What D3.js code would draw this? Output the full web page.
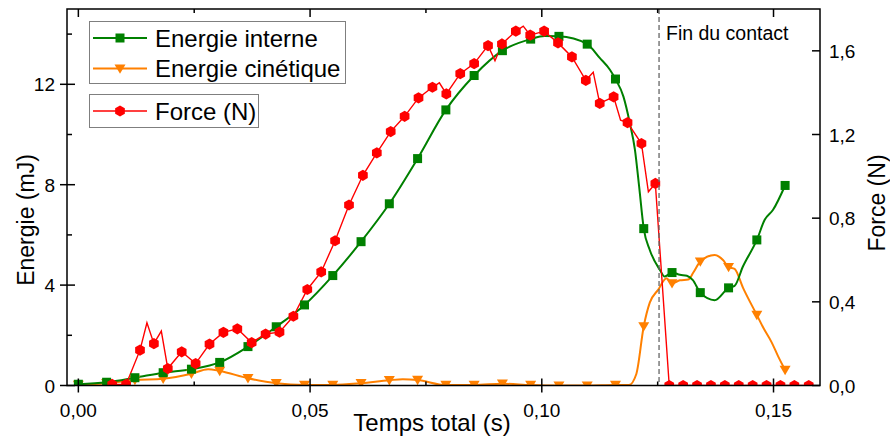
<!DOCTYPE html>
<html><head><meta charset="utf-8">
<script src="https://cdn.jsdelivr.net/npm/d3@7"></script>
<style>
html,body{margin:0;padding:0;background:#fff;}
svg text{font-family:"Liberation Sans",Arial,sans-serif;}
</style></head>
<body><svg id="c" width="890" height="437"></svg>
<script>
// ---------- data ----------
const xTickValues = [0, 0.05, 0.10, 0.15];
const xTickLabels = ["0,00", "0,05", "0,10", "0,15"];
const xMinorTicks = [0.025, 0.075, 0.125];
const yLeftTickValues = [0, 4, 8, 12];
const yLeftTickLabels = ["0", "4", "8", "12"];
const yLeftMinorTicks = [2, 6, 10, 14];
const yRightTickValues = [0, 0.4, 0.8, 1.2, 1.6];
const yRightTickLabels = ["0,0", "0,4", "0,8", "1,2", "1,6"];

// marker times for the energy series (s)
const tEnergy = [0, 0.0061, 0.0122, 0.0183, 0.0244, 0.0305, 0.0366, 0.0427, 0.0488, 0.0549,
  0.0610, 0.0671, 0.0732, 0.0793, 0.0854, 0.0915, 0.0976, 0.1037, 0.1098, 0.1159,
  0.1220, 0.1281, 0.1342, 0.1403, 0.1464, 0.1525];
// Energie interne (mJ) at markers
const energieInterne = [0.05, 0.13, 0.31, 0.51, 0.65, 0.92, 1.55, 2.34, 3.21, 4.38,
  5.73, 7.24, 9.04, 10.98, 12.35, 13.34, 13.80, 13.91, 13.60, 12.21,
  6.25, 4.50, 3.70, 3.89, 5.80, 7.97];
// extra curve points between markers
const tInterneExtra = [0.1006, 0.1125, 0.1147, 0.1176, 0.1190, 0.1201, 0.1210, 0.1233, 0.1255, 0.1265,
  0.1298, 0.1313, 0.1326, 0.1373, 0.1416, 0.1434, 0.1481, 0.1499];
const eInterneExtra = [13.92, 13.05, 12.58, 11.52, 10.45, 9.39, 7.93, 5.40, 4.60, 4.34,
  4.41, 4.37, 4.20, 3.40, 3.97, 4.74, 6.60, 7.00];

// Energie cinetique (mJ) at markers
const energieCinetique = [0.02, 0.09, 0.22, 0.27, 0.47, 0.58, 0.29, 0.09, 0.02, 0.02,
  0.09, 0.21, 0.22, 0.02, 0.02, 0.07, 0.02, 0.00, 0.00, 0.02,
  2.36, 4.07, 4.94, 4.72, 2.81, 0.62];
const tCinetiqueExtra = [0.0280, 0.0700, 0.1188, 0.1204, 0.1233, 0.1251, 0.1269, 0.1298, 0.1316, 0.1327,
  0.1373, 0.1391, 0.1416, 0.1434, 0.1478, 0.1496, 0.1510];
const eCinetiqueExtra = [0.65, 0.25, 0.02, 0.46, 3.30, 3.81, 4.27, 4.19, 4.22, 4.50,
  5.20, 5.00, 4.65, 3.90, 2.30, 1.72, 1.16];

// Force (N) markers
const tForce = [0.0073, 0.0103, 0.0133, 0.0163, 0.0193, 0.0223, 0.0253, 0.0283, 0.0313, 0.0343,
  0.0374, 0.0404, 0.0434, 0.0464, 0.0494, 0.0524, 0.0554, 0.0584, 0.0614, 0.0644,
  0.0674, 0.0704, 0.0734, 0.0764, 0.0794, 0.0824, 0.0854, 0.0884, 0.0914, 0.0944,
  0.0975, 0.1005, 0.1035, 0.1065, 0.1095, 0.1125, 0.1155, 0.1185, 0.1215, 0.1245,
  0.1275, 0.1305, 0.1335, 0.1365, 0.1395, 0.1425, 0.1455, 0.1485, 0.1515, 0.1545, 0.1576];
const force = [0.005, 0.005, 0.169, 0.200, 0.081, 0.161, 0.105, 0.198, 0.254, 0.271,
  0.205, 0.246, 0.255, 0.331, 0.459, 0.543, 0.692, 0.863, 1.005, 1.112,
  1.214, 1.287, 1.375, 1.426, 1.394, 1.491, 1.539, 1.625, 1.633, 1.694,
  1.675, 1.694, 1.638, 1.571, 1.459, 1.349, 1.380, 1.257, 1.157, 0.966,
  0, 0, 0, 0, 0, 0, 0, 0, 0, 0, 0];
const tForceExtra = [0.0148, 0.0179, 0.0779, 0.0899, 0.0960, 0.1111, 0.1170, 0.1230];
const forceExtra = [0.30, 0.26, 1.447, 1.553, 1.718, 1.498, 1.268, 0.926];

const finContactT = 0.1253;

// ---------- layout ----------
const svg = d3.select("#c");
const L = 67, R = 820, T = 9, B = 385.5;
const x = d3.scaleLinear().domain([-0.00245, 0.16003]).range([L, R]);
const yL = d3.scaleLinear().domain([0, 15]).range([B, T]);
const yR = d3.scaleLinear().domain([0, 1.8]).range([B, T]);

const GREEN = "#008000", ORANGE = "#FF8000", RED = "#FF0000";

function merge(t1, v1, t2, v2) {
  const a = t1.map((t, i) => [t, v1[i]]).concat(t2.map((t, i) => [t, v2[i]]));
  return a.sort((p, q) => p[0] - q[0]);
}

svg.append("defs").append("clipPath").attr("id", "clip")
  .append("rect").attr("x", L).attr("y", T).attr("width", R - L).attr("height", B - T);

const g = svg.append("g").attr("clip-path", "url(#clip)");

// dashed line
svg.append("line").attr("x1", x(finContactT)).attr("x2", x(finContactT))
  .attr("y1", T).attr("y2", B).attr("stroke", "#666").attr("stroke-width", 1.3)
  .attr("stroke-dasharray", "5,3");

// lines
const lineL = d3.line().x(d => x(d[0])).y(d => yL(d[1])).curve(d3.curveMonotoneX);
const lineR = d3.line().x(d => x(d[0])).y(d => yR(d[1]));

g.append("path").datum(merge(tEnergy, energieCinetique, tCinetiqueExtra, eCinetiqueExtra))
  .attr("d", lineL).attr("fill", "none").attr("stroke", ORANGE).attr("stroke-width", 2);
g.append("path").datum(merge(tEnergy, energieInterne, tInterneExtra, eInterneExtra))
  .attr("d", lineL).attr("fill", "none").attr("stroke", GREEN).attr("stroke-width", 2);
g.append("path").datum(merge(tForce, force, tForceExtra, forceExtra))
  .attr("d", lineR).attr("fill", "none").attr("stroke", RED).attr("stroke-width", 1.4);

// markers
const sq = 9;
function hexPath(r) {
  const pts = d3.range(6).map(i => {
    const a = (Math.PI / 3) * i - Math.PI / 2;
    return [r * Math.cos(a), r * Math.sin(a)];
  });
  return "M" + pts.map(p => p.join(",")).join("L") + "Z";
}
function triPath(s) {
  return `M${-s},${-s * 0.75}L${s},${-s * 0.75}L0,${s * 0.95}Z`;
}
g.selectAll(".ti").data(tEnergy.map((t, i) => [t, energieCinetique[i]])).enter()
  .append("path").attr("d", triPath(5.5)).attr("fill", ORANGE)
  .attr("transform", d => `translate(${x(d[0])},${yL(d[1])})`);
g.selectAll(".sq").data(tEnergy.map((t, i) => [t, energieInterne[i]])).enter()
  .append("rect").attr("width", sq).attr("height", sq).attr("fill", GREEN)
  .attr("x", d => x(d[0]) - sq / 2).attr("y", d => yL(d[1]) - sq / 2);
g.selectAll(".hx").data(tForce.map((t, i) => [t, force[i]])).enter()
  .append("path").attr("d", hexPath(5.6)).attr("fill", RED)
  .attr("transform", d => `translate(${x(d[0])},${yR(d[1])})`);

// axes frame
const ax = svg.append("g").attr("stroke", "#000").attr("stroke-width", 1.5);
ax.append("rect").attr("x", L).attr("y", T).attr("width", R - L).attr("height", B - T).attr("fill", "none");

// bottom/top ticks
xTickValues.forEach(v => {
  ax.append("line").attr("x1", x(v)).attr("x2", x(v)).attr("y1", B - 7).attr("y2", B + 7);
  ax.append("line").attr("x1", x(v)).attr("x2", x(v)).attr("y1", T).attr("y2", T + 8);
});
xMinorTicks.forEach(v => {
  ax.append("line").attr("x1", x(v)).attr("x2", x(v)).attr("y1", B - 4).attr("y2", B);
  ax.append("line").attr("x1", x(v)).attr("x2", x(v)).attr("y1", T).attr("y2", T + 4);
});
yLeftTickValues.forEach(v => {
  ax.append("line").attr("x1", L - 7).attr("x2", L + 8).attr("y1", yL(v)).attr("y2", yL(v));
});
yLeftMinorTicks.forEach(v => {
  ax.append("line").attr("x1", L).attr("x2", L + 5).attr("y1", yL(v)).attr("y2", yL(v));
});
yRightTickValues.forEach(v => {
  ax.append("line").attr("x1", R - 8).attr("x2", R).attr("y1", yR(v)).attr("y2", yR(v));
});

// tick labels
const tl = svg.append("g").attr("font-size", 19).attr("fill", "#000");
xTickValues.forEach((v, i) => {
  tl.append("text").attr("x", x(v)).attr("y", 417).attr("text-anchor", "middle").text(xTickLabels[i]);
});
yLeftTickValues.forEach((v, i) => {
  tl.append("text").attr("x", 55).attr("y", yL(v) + 7).attr("text-anchor", "end").text(yLeftTickLabels[i]);
});
yRightTickValues.forEach((v, i) => {
  tl.append("text").attr("x", 829).attr("y", yR(v) + 7).attr("text-anchor", "start").text(yRightTickLabels[i]);
});

// axis titles
svg.append("text").attr("x", 432).attr("y", 431).attr("text-anchor", "middle")
  .attr("font-size", 24).text("Temps total (s)");
svg.append("text").attr("transform", `translate(34,220) rotate(-90)`)
  .attr("text-anchor", "middle").attr("font-size", 23).text("Energie (mJ)");
svg.append("text").attr("transform", `translate(885,203) rotate(-90)`)
  .attr("text-anchor", "middle").attr("font-size", 23).text("Force (N)");

// annotation
svg.append("text").attr("x", 666).attr("y", 40).attr("font-size", 19.5).text("Fin du contact");

// legends
const lg = svg.append("g");
lg.append("rect").attr("x", 89.5).attr("y", 21.5).attr("width", 256).attr("height", 62)
  .attr("fill", "#fff").attr("stroke", "#7f7f7f").attr("stroke-width", 1);
lg.append("rect").attr("x", 89.5).attr("y", 94.5).attr("width", 169).attr("height", 33)
  .attr("fill", "#fff").attr("stroke", "#7f7f7f").attr("stroke-width", 1);
const entries = [
  {label: "Energie interne", color: GREEN, y: 38, kind: "sq"},
  {label: "Energie cinétique", color: ORANGE, y: 68.5, kind: "tri"},
  {label: "Force (N)", color: RED, y: 111, kind: "hex"}
];
entries.forEach(e => {
  lg.append("line").attr("x1", 93).attr("x2", 147).attr("y1", e.y).attr("y2", e.y)
    .attr("stroke", e.color).attr("stroke-width", e.kind === "hex" ? 1.4 : 2);
  if (e.kind === "sq") lg.append("rect").attr("x", 120 - sq / 2).attr("y", e.y - sq / 2).attr("width", sq).attr("height", sq).attr("fill", e.color);
  if (e.kind === "tri") lg.append("path").attr("d", triPath(5.5)).attr("fill", e.color).attr("transform", `translate(120,${e.y})`);
  if (e.kind === "hex") lg.append("path").attr("d", hexPath(5.6)).attr("fill", e.color).attr("transform", `translate(120,${e.y})`);
  lg.append("text").attr("x", 155).attr("y", e.y + 8.5).attr("font-size", 24).text(e.label);
});
</script></body></html>
